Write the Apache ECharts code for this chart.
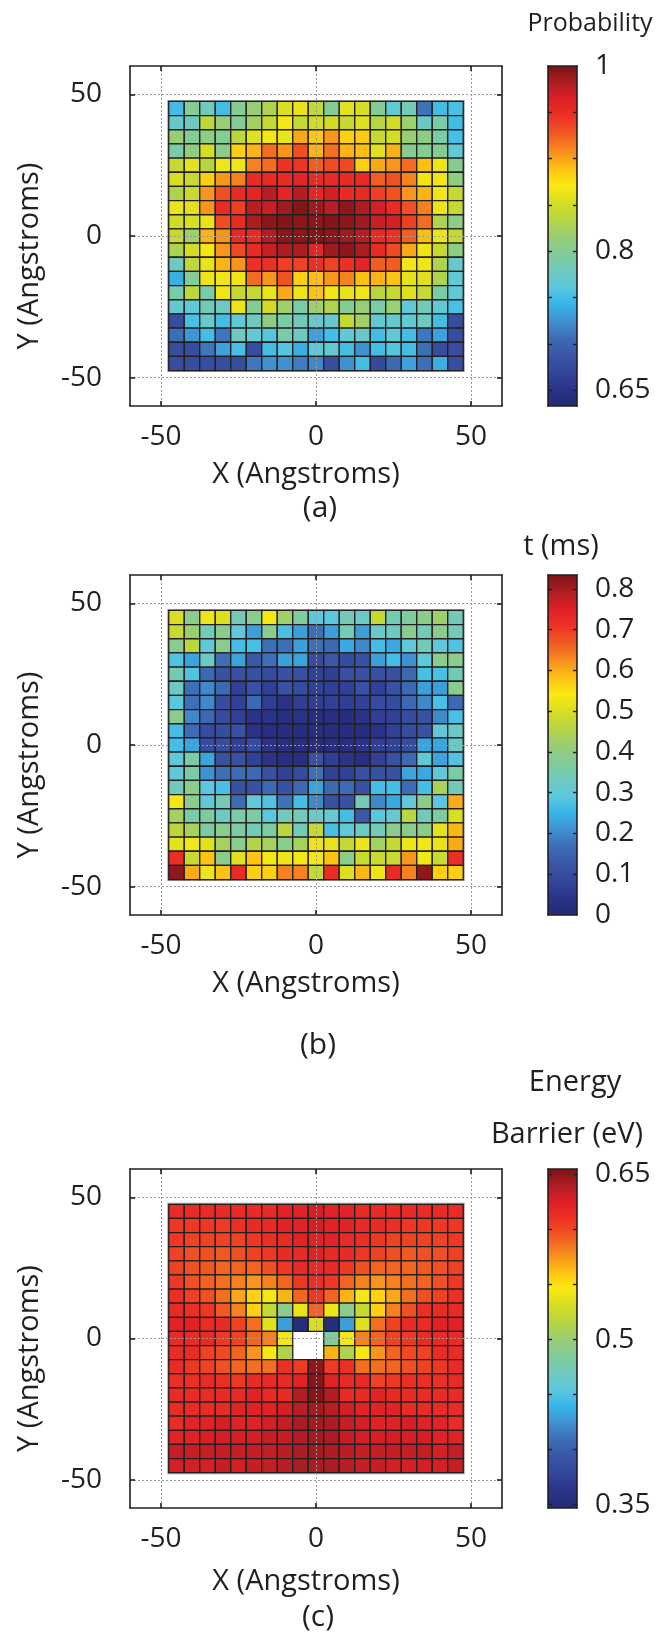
<!DOCTYPE html>
<html>
<head>
<meta charset="utf-8">
<script src="https://cdn.jsdelivr.net/npm/echarts@6/dist/echarts.min.js"></script>
</head>
<body style="margin:0; background:#fff">
<div id="main" style="width:666px; height:1638px"></div>
<script>
// cell centres in Angstroms (rows listed top to bottom)
var xCenters = [-45, -40, -35, -30, -25, -20, -15, -10, -5, 0, 5, 10, 15, 20, 25, 30, 35, 40, 45];
var yCenters = [45, 40, 35, 30, 25, 20, 15, 10, 5, 0, -5, -10, -15, -20, -25, -30, -35, -40, -45];
var axisRange = [-60, 60];
var axisTicks = [-50, 0, 50];

// (a) probability
var probRows = [
  [0.75, 0.80, 0.78, 0.75, 0.80, 0.815, 0.83, 0.855, 0.862, 0.84, 0.80, 0.858, 0.852, 0.80, 0.765, 0.785, 0.71, 0.75, 0.752],
  [0.77, 0.778, 0.838, 0.815, 0.80, 0.822, 0.842, 0.868, 0.842, 0.85, 0.85, 0.843, 0.857, 0.833, 0.85, 0.818, 0.775, 0.79, 0.75],
  [0.815, 0.80, 0.808, 0.80, 0.837, 0.857, 0.868, 0.862, 0.898, 0.886, 0.905, 0.883, 0.885, 0.843, 0.85, 0.815, 0.808, 0.79, 0.752],
  [0.79, 0.81, 0.852, 0.805, 0.883, 0.894, 0.92, 0.905, 0.932, 0.894, 0.918, 0.894, 0.89, 0.857, 0.895, 0.80, 0.80, 0.80, 0.765],
  [0.843, 0.858, 0.835, 0.866, 0.866, 0.912, 0.92, 0.945, 0.944, 0.925, 0.933, 0.935, 0.883, 0.898, 0.905, 0.92, 0.89, 0.864, 0.80],
  [0.853, 0.843, 0.883, 0.905, 0.912, 0.952, 0.952, 0.952, 0.958, 0.952, 0.952, 0.952, 0.952, 0.925, 0.93, 0.912, 0.866, 0.866, 0.81],
  [0.83, 0.843, 0.905, 0.932, 0.952, 0.958, 0.978, 0.958, 0.98, 0.957, 0.968, 0.952, 0.952, 0.94, 0.93, 0.905, 0.894, 0.866, 0.843],
  [0.863, 0.858, 0.905, 0.952, 0.94, 0.978, 0.972, 0.987, 0.996, 0.987, 0.978, 0.993, 0.983, 0.968, 0.952, 0.932, 0.912, 0.863, 0.843],
  [0.85, 0.853, 0.862, 0.933, 0.952, 0.983, 0.994, 0.996, 0.994, 0.994, 0.996, 0.994, 0.987, 0.972, 0.968, 0.94, 0.92, 0.83, 0.808],
  [0.843, 0.818, 0.894, 0.905, 0.952, 0.952, 0.98, 0.994, 0.994, 0.996, 0.994, 0.987, 0.98, 0.952, 0.948, 0.925, 0.89, 0.863, 0.843],
  [0.83, 0.85, 0.868, 0.905, 0.934, 0.952, 0.972, 0.983, 0.983, 0.958, 0.987, 0.994, 0.983, 0.952, 0.934, 0.898, 0.866, 0.843, 0.808],
  [0.778, 0.838, 0.862, 0.894, 0.905, 0.948, 0.948, 0.94, 0.938, 0.948, 0.938, 0.948, 0.958, 0.925, 0.925, 0.866, 0.866, 0.83, 0.772],
  [0.74, 0.80, 0.866, 0.866, 0.866, 0.92, 0.905, 0.93, 0.883, 0.89, 0.905, 0.912, 0.89, 0.894, 0.888, 0.86, 0.857, 0.83, 0.765],
  [0.79, 0.838, 0.79, 0.866, 0.843, 0.843, 0.863, 0.898, 0.863, 0.888, 0.866, 0.862, 0.866, 0.835, 0.843, 0.857, 0.842, 0.79, 0.765],
  [0.77, 0.765, 0.783, 0.778, 0.863, 0.80, 0.85, 0.818, 0.79, 0.82, 0.83, 0.80, 0.815, 0.79, 0.818, 0.765, 0.783, 0.767, 0.752],
  [0.68, 0.752, 0.772, 0.75, 0.765, 0.778, 0.808, 0.79, 0.783, 0.772, 0.772, 0.843, 0.822, 0.767, 0.772, 0.767, 0.778, 0.75, 0.68],
  [0.708, 0.728, 0.75, 0.712, 0.778, 0.767, 0.758, 0.79, 0.778, 0.733, 0.75, 0.767, 0.772, 0.75, 0.767, 0.75, 0.712, 0.733, 0.68],
  [0.68, 0.68, 0.712, 0.733, 0.752, 0.68, 0.75, 0.758, 0.74, 0.763, 0.767, 0.75, 0.725, 0.75, 0.758, 0.75, 0.708, 0.68, 0.68],
  [0.68, 0.68, 0.68, 0.68, 0.68, 0.712, 0.725, 0.725, 0.715, 0.72, 0.68, 0.725, 0.75, 0.675, 0.705, 0.733, 0.708, 0.74, 0.68]
];
var probRange = [0.633, 1.0];
var probBarTicks = [0.65, 0.7, 0.75, 0.8, 0.85, 0.9, 0.95];
var probBarLabels = [0.65, 0.8, 1];

// (b) time in ms
var timeRows = [
  [0.5, 0.39, 0.525, 0.505, 0.345, 0.39, 0.533, 0.425, 0.367, 0.29, 0.29, 0.34, 0.325, 0.475, 0.345, 0.367, 0.39, 0.425, 0.34],
  [0.48, 0.42, 0.34, 0.39, 0.3, 0.225, 0.39, 0.27, 0.225, 0.17, 0.225, 0.34, 0.225, 0.325, 0.325, 0.39, 0.34, 0.39, 0.34],
  [0.39, 0.46, 0.3, 0.39, 0.267, 0.27, 0.17, 0.17, 0.225, 0.17, 0.16, 0.235, 0.2, 0.267, 0.235, 0.3, 0.34, 0.3, 0.28],
  [0.28, 0.23, 0.325, 0.17, 0.23, 0.13, 0.17, 0.225, 0.23, 0.1, 0.13, 0.1, 0.115, 0.225, 0.267, 0.21, 0.3, 0.39, 0.39],
  [0.34, 0.28, 0.16, 0.115, 0.115, 0.115, 0.1, 0.115, 0.115, 0.075, 0.07, 0.115, 0.115, 0.115, 0.115, 0.16, 0.27, 0.27, 0.34],
  [0.325, 0.17, 0.2, 0.16, 0.075, 0.115, 0.07, 0.115, 0.1, 0.075, 0.07, 0.075, 0.115, 0.075, 0.115, 0.16, 0.225, 0.225, 0.39],
  [0.29, 0.17, 0.2, 0.1, 0.075, 0.16, 0.067, 0.04, 0.067, 0.067, 0.075, 0.067, 0.075, 0.1, 0.1, 0.16, 0.2, 0.27, 0.16],
  [0.39, 0.2, 0.16, 0.1, 0.075, 0.04, 0.04, 0.025, 0.04, 0.02, 0.025, 0.02, 0.04, 0.067, 0.075, 0.1, 0.115, 0.2, 0.27],
  [0.267, 0.165, 0.1, 0.1, 0.115, 0.04, 0.025, 0.02, 0.02, 0.02, 0.02, 0.02, 0.02, 0.04, 0.075, 0.1, 0.115, 0.3, 0.325],
  [0.267, 0.23, 0.1, 0.1, 0.075, 0.1, 0.04, 0.025, 0.02, 0.02, 0.02, 0.025, 0.04, 0.067, 0.075, 0.1, 0.23, 0.23, 0.325],
  [0.3, 0.36, 0.23, 0.115, 0.115, 0.075, 0.04, 0.025, 0.025, 0.115, 0.067, 0.04, 0.025, 0.075, 0.115, 0.16, 0.3, 0.23, 0.28],
  [0.3, 0.36, 0.21, 0.17, 0.165, 0.16, 0.115, 0.075, 0.1, 0.17, 0.075, 0.075, 0.115, 0.115, 0.115, 0.23, 0.235, 0.3, 0.36],
  [0.34, 0.39, 0.29, 0.27, 0.115, 0.115, 0.16, 0.115, 0.16, 0.23, 0.16, 0.165, 0.115, 0.267, 0.267, 0.165, 0.267, 0.44, 0.34],
  [0.533, 0.39, 0.3, 0.34, 0.165, 0.3, 0.28, 0.175, 0.267, 0.2, 0.115, 0.115, 0.34, 0.2, 0.235, 0.3, 0.39, 0.29, 0.6],
  [0.433, 0.36, 0.365, 0.325, 0.36, 0.36, 0.29, 0.34, 0.34, 0.325, 0.31, 0.267, 0.13, 0.29, 0.31, 0.46, 0.34, 0.365, 0.5],
  [0.46, 0.433, 0.365, 0.39, 0.365, 0.34, 0.365, 0.46, 0.34, 0.475, 0.27, 0.3, 0.325, 0.34, 0.39, 0.39, 0.39, 0.515, 0.59],
  [0.515, 0.53, 0.51, 0.433, 0.39, 0.45, 0.433, 0.39, 0.433, 0.525, 0.52, 0.475, 0.525, 0.433, 0.475, 0.525, 0.53, 0.52, 0.6],
  [0.72, 0.48, 0.58, 0.39, 0.51, 0.58, 0.535, 0.525, 0.535, 0.535, 0.58, 0.39, 0.48, 0.48, 0.48, 0.617, 0.53, 0.48, 0.72],
  [0.817, 0.6, 0.525, 0.58, 0.725, 0.567, 0.567, 0.635, 0.635, 0.475, 0.72, 0.505, 0.592, 0.525, 0.725, 0.635, 0.817, 0.567, 0.567]
];
var timeRange = [0, 0.834];
var timeBarTicks = [0.1, 0.2, 0.3, 0.4, 0.5, 0.6, 0.7, 0.8];
var timeBarLabels = [0, 0.1, 0.2, 0.3, 0.4, 0.5, 0.6, 0.7, 0.8];

// (c) energy barrier in eV, null = no value (white hole)
var energyRows = [
  [0.615, 0.615, 0.615, 0.615, 0.615, 0.615, 0.615, 0.621, 0.621, 0.627, 0.621, 0.621, 0.615, 0.615, 0.615, 0.615, 0.615, 0.615, 0.615],
  [0.607, 0.607, 0.607, 0.606, 0.612, 0.615, 0.615, 0.621, 0.621, 0.627, 0.621, 0.621, 0.615, 0.615, 0.612, 0.607, 0.607, 0.607, 0.607],
  [0.607, 0.603, 0.603, 0.603, 0.603, 0.607, 0.612, 0.615, 0.621, 0.621, 0.621, 0.615, 0.612, 0.607, 0.603, 0.603, 0.603, 0.603, 0.607],
  [0.603, 0.597, 0.597, 0.594, 0.597, 0.603, 0.607, 0.615, 0.615, 0.621, 0.615, 0.615, 0.607, 0.603, 0.597, 0.594, 0.597, 0.597, 0.603],
  [0.603, 0.597, 0.594, 0.59, 0.59, 0.59, 0.597, 0.607, 0.615, 0.615, 0.615, 0.607, 0.597, 0.59, 0.59, 0.59, 0.594, 0.597, 0.603],
  [0.607, 0.597, 0.59, 0.587, 0.581, 0.575, 0.581, 0.59, 0.607, 0.612, 0.607, 0.59, 0.581, 0.575, 0.581, 0.587, 0.59, 0.597, 0.607],
  [0.612, 0.603, 0.597, 0.587, 0.57, 0.556, 0.544, 0.566, 0.59, 0.607, 0.59, 0.566, 0.544, 0.556, 0.57, 0.587, 0.597, 0.603, 0.612],
  [0.615, 0.612, 0.607, 0.594, 0.581, 0.556, 0.522, 0.49, 0.54, 0.59, 0.541, 0.49, 0.522, 0.556, 0.581, 0.597, 0.612, 0.615, 0.615],
  [0.621, 0.621, 0.615, 0.615, 0.603, 0.587, 0.535, 0.43, 0.353, 0.532, 0.353, 0.43, 0.535, 0.587, 0.603, 0.615, 0.615, 0.621, 0.621],
  [0.615, 0.615, 0.615, 0.607, 0.603, 0.59, 0.581, 0.544, null, null, 0.483, 0.544, 0.581, 0.59, 0.603, 0.607, 0.615, 0.615, 0.615],
  [0.615, 0.615, 0.603, 0.6, 0.59, 0.575, 0.544, 0.513, null, null, 0.566, 0.513, 0.544, 0.575, 0.59, 0.6, 0.603, 0.615, 0.615],
  [0.615, 0.607, 0.603, 0.597, 0.59, 0.587, 0.587, 0.612, 0.606, 0.649, 0.606, 0.612, 0.587, 0.587, 0.59, 0.597, 0.603, 0.607, 0.615],
  [0.612, 0.612, 0.615, 0.612, 0.607, 0.615, 0.615, 0.615, 0.621, 0.652, 0.621, 0.615, 0.615, 0.603, 0.607, 0.612, 0.612, 0.612, 0.615],
  [0.615, 0.615, 0.615, 0.615, 0.615, 0.621, 0.615, 0.615, 0.639, 0.652, 0.639, 0.615, 0.615, 0.621, 0.615, 0.615, 0.615, 0.615, 0.615],
  [0.615, 0.615, 0.615, 0.615, 0.621, 0.621, 0.621, 0.627, 0.637, 0.644, 0.637, 0.627, 0.621, 0.621, 0.621, 0.615, 0.615, 0.615, 0.615],
  [0.615, 0.621, 0.621, 0.627, 0.621, 0.621, 0.627, 0.632, 0.641, 0.644, 0.641, 0.632, 0.627, 0.621, 0.621, 0.627, 0.621, 0.621, 0.615],
  [0.621, 0.621, 0.627, 0.627, 0.627, 0.627, 0.632, 0.632, 0.639, 0.644, 0.641, 0.632, 0.627, 0.627, 0.627, 0.627, 0.627, 0.621, 0.621],
  [0.632, 0.632, 0.632, 0.632, 0.632, 0.632, 0.632, 0.637, 0.641, 0.644, 0.641, 0.637, 0.632, 0.632, 0.632, 0.632, 0.632, 0.627, 0.632],
  [0.627, 0.627, 0.627, 0.632, 0.627, 0.632, 0.632, 0.637, 0.641, 0.641, 0.641, 0.637, 0.632, 0.632, 0.627, 0.627, 0.627, 0.627, 0.632]
];
var energyRange = [0.347, 0.655];
var energyBarTicks = [0.35, 0.4, 0.45, 0.5, 0.55, 0.6, 0.65];
var energyBarLabels = [0.35, 0.5, 0.65];

// jet-like colour map, low -> high
var palette = ['#252a74', '#2b3388', '#33469a', '#3a55a5', '#3d6cb5', '#4090d0', '#36b6ea',
  '#5cc8dd', '#70cabd', '#82cb98', '#99ce72', '#b8d541', '#d8de22', '#fbe912', '#fcbf12',
  '#f68c1e', '#f15a22', '#ee3324', '#df1f26', '#b01e23', '#7a1315'];

var ink = '#231f20';
var font = '"Open Sans", sans-serif';
var cellW = xCenters[1] - xCenters[0];
var cellH = yCenters[0] - yCenters[1];

var panels = [
  {rows: probRows, range: probRange, barTicks: probBarTicks, barLabels: probBarLabels, top: 66, height: 340, nameGap: 54},
  {rows: timeRows, range: timeRange, barTicks: timeBarTicks, barLabels: timeBarLabels, top: 575, height: 340, nameGap: 54},
  {rows: energyRows, range: energyRange, barTicks: energyBarTicks, barLabels: energyBarLabels, top: 1169, height: 339, nameGap: 59}
];

function cellData(rows) {
  var out = [];
  rows.forEach(function (row, r) {
    row.forEach(function (v, c) {
      if (v !== null) out.push([xCenters[c], yCenters[r], v]);
    });
  });
  return out;
}

function renderCell(params, api) {
  var x = api.value(0), y = api.value(1);
  var p0 = api.coord([x - cellW / 2, y + cellH / 2]);
  var p1 = api.coord([x + cellW / 2, y - cellH / 2]);
  return {
    type: 'rect',
    shape: {x: p0[0], y: p0[1], width: p1[0] - p0[0], height: p1[1] - p0[1]},
    style: {fill: api.visual('color'), stroke: ink, lineWidth: 1.3}
  };
}

function renderOutline(params, api) {
  var p0 = api.coord([api.value(0), api.value(3)]);
  var p1 = api.coord([api.value(1), api.value(2)]);
  return {
    type: 'rect',
    shape: {x: p0[0], y: p0[1], width: p1[0] - p0[0], height: p1[1] - p0[1]},
    style: {fill: null, stroke: '#a3a3a3', lineWidth: 3}
  };
}

function renderBar(params, api) {
  var lo = api.coord([0, api.value(0)]);
  var hi = api.coord([1, api.value(1)]);
  var stops = palette.map(function (c, k) { return {offset: k / (palette.length - 1), color: c}; });
  return {
    type: 'rect',
    shape: {x: lo[0], y: hi[1], width: hi[0] - lo[0], height: lo[1] - hi[1]},
    style: {fill: new echarts.graphic.LinearGradient(0, 1, 0, 0, stops)}
  };
}

function mainX(g, pos, labelled, gap) {
  return {
    gridIndex: g, type: 'value', position: pos, min: axisRange[0], max: axisRange[1], z: 3,
    axisLine: {show: true, onZero: false, lineStyle: {color: ink, width: 1.6}},
    axisTick: {show: true, inside: true, length: 5, customValues: axisTicks, lineStyle: {color: ink, width: 1.6}},
    axisLabel: {show: labelled, customValues: axisTicks, margin: 17, color: ink, fontSize: 28, fontFamily: font},
    splitLine: {show: labelled, lineStyle: {color: '#9a9a9a', width: 1, type: [2, 2]}},
    name: labelled ? 'X (Angstroms)' : '', nameLocation: 'middle', nameGap: gap,
    nameTextStyle: {color: ink, fontSize: 29, fontFamily: font, padding: [0, 20, 0, 0]}
  };
}

function mainY(g, pos, labelled) {
  return {
    gridIndex: g, type: 'value', position: pos, min: axisRange[0], max: axisRange[1], z: 3,
    axisLine: {show: true, onZero: false, lineStyle: {color: ink, width: 1.6}},
    axisTick: {show: true, inside: true, length: 5, customValues: axisTicks, lineStyle: {color: ink, width: 1.6}},
    axisLabel: {show: labelled, customValues: axisTicks, margin: 28, color: ink, fontSize: 28, fontFamily: font},
    splitLine: {show: labelled, lineStyle: {color: '#9a9a9a', width: 1, type: [2, 2]}},
    name: labelled ? 'Y (Angstroms)' : '', nameLocation: 'middle', nameGap: 86,
    nameTextStyle: {color: ink, fontSize: 29, fontFamily: font, padding: [0, 40, 0, 0]}
  };
}

function barX(g, pos) {
  return {
    gridIndex: g, type: 'value', position: pos, min: 0, max: 1, z: 3,
    axisLine: {show: true, onZero: false, lineStyle: {color: ink, width: 1.6}},
    axisTick: {show: false}, axisLabel: {show: false}, splitLine: {show: false}
  };
}

function barY(g, pos, p, labelled) {
  return {
    gridIndex: g, type: 'value', position: pos, min: p.range[0], max: p.range[1], z: 3,
    axisLine: {show: true, onZero: false, lineStyle: {color: ink, width: 1.6}},
    axisTick: {show: true, inside: true, length: 4, customValues: p.barTicks, lineStyle: {color: ink, width: 1.4}},
    axisLabel: {show: labelled, customValues: p.barLabels, margin: 18, color: ink, fontSize: 28, fontFamily: font},
    splitLine: {show: false}
  };
}

var grids = [], xAxes = [], yAxes = [], series = [], visualMaps = [];
panels.forEach(function (p) {
  var g = grids.length;
  grids.push({left: 130, top: p.top, width: 372, height: p.height, outerBoundsMode: 'none'});
  grids.push({left: 548, top: p.top, width: 29, height: p.height, outerBoundsMode: 'none'});
  var xi = xAxes.length, yi = yAxes.length;
  xAxes.push(mainX(g, 'bottom', true, p.nameGap), mainX(g, 'top', false, 0), barX(g + 1, 'bottom'), barX(g + 1, 'top'));
  yAxes.push(mainY(g, 'left', true), mainY(g, 'right', false), barY(g + 1, 'left', p, false), barY(g + 1, 'right', p, true));

  series.push({
    type: 'custom', xAxisIndex: xi, yAxisIndex: yi, z: 1, silent: true, renderItem: renderOutline,
    data: [[xCenters[0] - cellW / 2, xCenters[xCenters.length - 1] + cellW / 2,
      yCenters[yCenters.length - 1] - cellH / 2, yCenters[0] + cellH / 2]]
  });
  visualMaps.push({
    type: 'continuous', show: false, seriesIndex: series.length, dimension: 2,
    min: p.range[0], max: p.range[1], inRange: {color: palette}
  });
  series.push({
    type: 'custom', xAxisIndex: xi, yAxisIndex: yi, z: 2, renderItem: renderCell,
    encode: {x: 0, y: 1}, data: cellData(p.rows)
  });
  series.push({
    type: 'custom', xAxisIndex: xi + 2, yAxisIndex: yi + 2, z: 2, silent: true, renderItem: renderBar,
    data: [[p.range[0], p.range[1]]]
  });
});

function label(text, x, y, size) {
  return {
    type: 'text', x: x, y: y, silent: true,
    style: {text: text, font: size + 'px ' + font, fill: ink,
      align: 'center', verticalAlign: 'middle', textAlign: 'center', textVerticalAlign: 'middle'}
  };
}

var chart = echarts.init(document.getElementById('main'));
chart.setOption({
  animation: false,
  backgroundColor: '#ffffff',
  textStyle: {fontFamily: font},
  grid: grids,
  xAxis: xAxes,
  yAxis: yAxes,
  visualMap: visualMaps,
  series: series,
  graphic: [
    label('Probability', 590, 24, 25),
    label('(a)', 320, 508, 30),
    label('t (ms)', 561, 547, 29),
    label('(b)', 318, 1045, 30),
    label('Energy', 575, 1083, 29),
    label('Barrier (eV)', 567, 1135, 29),
    label('(c)', 318, 1617, 30)
  ]
});
</script>
</body>
</html>
